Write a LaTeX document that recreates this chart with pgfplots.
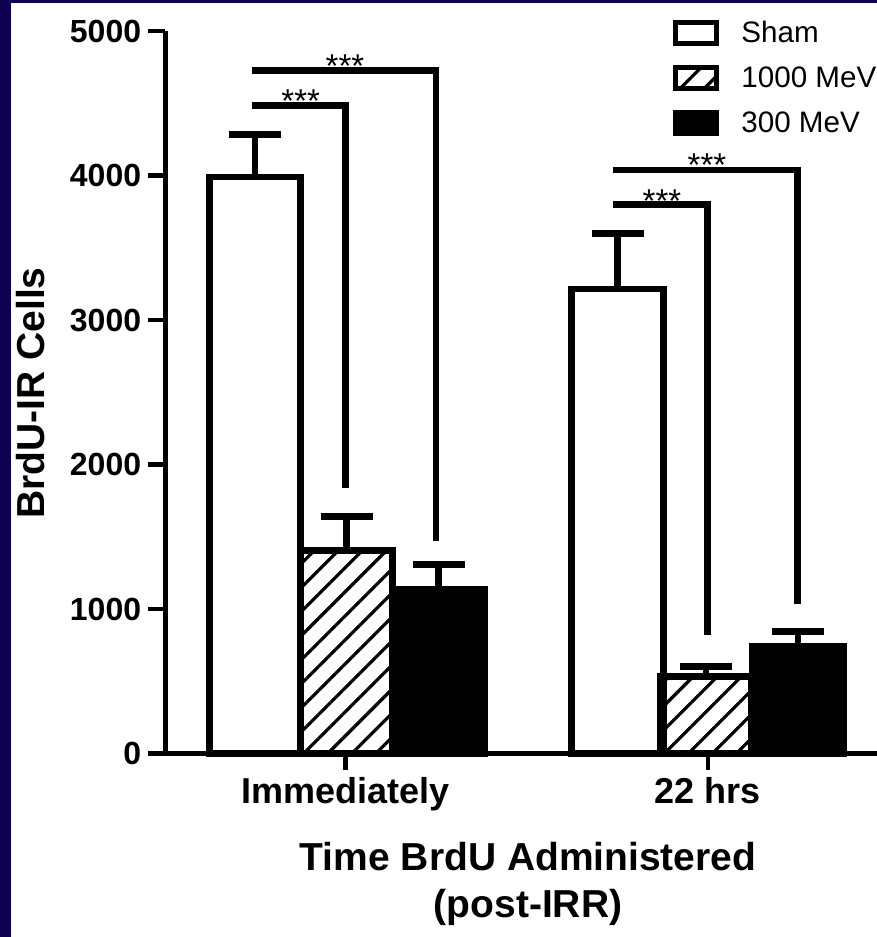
\documentclass[border=0pt]{standalone}
\usepackage{fontspec}
\setmainfont{Liberation Sans}
\usepackage{pgfplots}
\pgfplotsset{compat=1.18}
\usetikzlibrary{patterns.meta}
\definecolor{navy}{RGB}{16,0,80}
\pgfplotsset{
  mylegimg/.style={legend image code/.code={\draw[##1, line width=2.5pt] (0pt,-5.25pt) rectangle (20.5pt,5.25pt);}},
}
\begin{document}
\begin{tikzpicture}
\useasboundingbox (0,0) rectangle (438.5pt,-468.5pt);
\fill[white] (0,0) rectangle (438.5pt,-468.5pt);
\fill[navy] (0,0) rectangle (5.35pt,-468.5pt);
\fill[navy] (0,0) rectangle (438.5pt,-1.4pt);
\begin{axis}[
  at={(82.5pt,-376.75pt)}, anchor=south west,
  scale only axis, width=357.5pt, height=361.25pt,
  xmin=165, xmax=880, ymin=0, ymax=5000,
  axis x line*=bottom, axis y line*=left,
  axis line style={line width=2.5pt, black},
  every tick/.append style={black, line width=2.3pt},
  tick align=outside, major tick length=8.4pt,
  xtick={345.5,708}, xticklabels={Immediately,22 hrs},
  ytick={0,1000,2000,3000,4000,5000}, yticklabels={0,1000,2000,3000,4000,5000},
  minor tick num=0,
  x tick label style={font=\bfseries\fontsize{18}{20}\selectfont},
  y tick label style={font=\bfseries\fontsize{16}{18}\selectfont},
  clip=false,
  xlabel={Time BrdU Administered\\(post-IRR)},
  xlabel style={at={(axis cs:528,-610)}, anchor=north, inner sep=0pt, align=center, font=\bfseries\fontsize{19.5}{23.5}\selectfont},
  ylabel={BrdU-IR Cells},
  ylabel style={at={(axis cs:31,2495)}, anchor=center, inner sep=0pt, font=\bfseries\fontsize{19.5}{23}\selectfont},
  legend style={at={(axis description cs:0.7105,1.0152)}, anchor=north west, draw=none, fill=none,
     inner sep=0pt, row sep=9.5pt, column sep=11pt, font=\fontsize{14.8}{17}\selectfont, nodes={inner sep=0pt}},
  legend cell align=left,
]
\addplot[ybar, bar width=91.5, bar shift=0pt, draw=black, fill=white, line width=3.3pt, mylegimg,
  error bars/.cd, y dir=plus, y explicit,
  error bar style={line width=3.3pt, black, solid},
  error mark options={rotate=90, mark size=13pt, line width=3.3pt, black}]
  coordinates {(255,3990) +- (0,294) (617.5,3215) +- (0,385)};
\addlegendentry{Sham}
\addplot[ybar, bar width=91.5, bar shift=0pt, draw=black, fill=white, pattern={Lines[angle=45,distance=8.5pt,line width=1.6pt]}, pattern color=black, line width=3.3pt, mylegimg,
  error bars/.cd, y dir=plus, y explicit,
  error bar style={line width=3.3pt, black, solid},
  error mark options={rotate=90, mark size=13pt, line width=3.3pt, black}]
  coordinates {(346.5,1405) +- (0,235) (706,533) +- (0,69)};
\addlegendentry{1000 MeV}
\addplot[ybar, bar width=91.5, bar shift=0pt, draw=black, fill=black, line width=3.3pt, mylegimg,
  error bars/.cd, y dir=plus, y explicit,
  error bar style={line width=3.3pt, black, solid},
  error mark options={rotate=90, mark size=13pt, line width=3.3pt, black}]
  coordinates {(438.5,1135) +- (0,173) (798,744) +- (0,100)};
\addlegendentry{300 MeV}
% significance brackets
\addplot[black, line width=3.3pt, mark=none] coordinates {(252,4484) (345.3,4484) (345.3,1837)};
\addplot[black, line width=3.3pt, mark=none] coordinates {(252,4725) (436,4725) (436,1473)};
\addplot[black, line width=3.3pt, mark=none] coordinates {(613,3801) (707.5,3801) (707.5,820)};
\addplot[black, line width=3.3pt, mark=none] coordinates {(613,4038) (797.5,4038) (797.5,1035)};
\node[anchor=base, font=\fontsize{16.5}{18}\selectfont] at (axis cs:300.7,4433) {***};
\node[anchor=base, font=\fontsize{16.5}{18}\selectfont] at (axis cs:345,4678) {***};
\node[anchor=base, font=\fontsize{16.5}{18}\selectfont] at (axis cs:662,3744) {***};
\node[anchor=base, font=\fontsize{16.5}{18}\selectfont] at (axis cs:707,3993) {***};
\end{axis}
\end{tikzpicture}
\end{document}
